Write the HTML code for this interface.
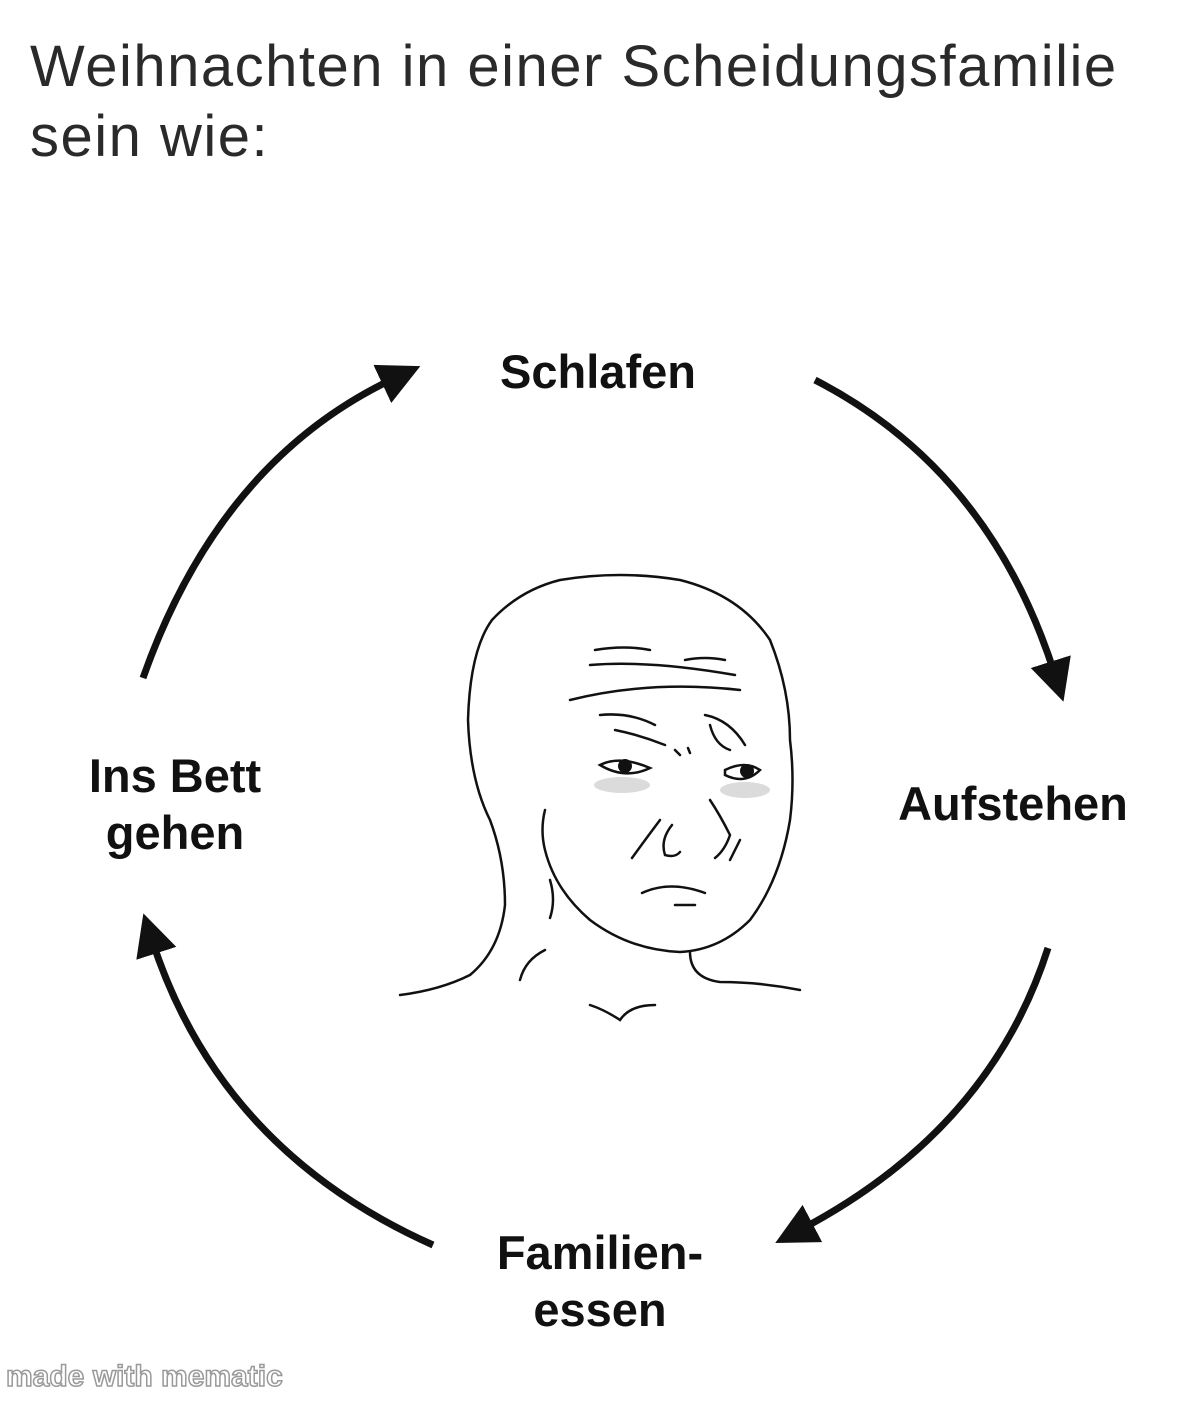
<!DOCTYPE html>
<html><head><meta charset="utf-8"><style>
html,body{margin:0;padding:0;background:#fff;}
body{width:1200px;height:1402px;position:relative;overflow:hidden;font-family:"Liberation Sans",sans-serif;}
.t{position:absolute;left:30px;font-size:58px;color:#2a2a2a;font-weight:normal;letter-spacing:1.5px;line-height:70px;}
.l{position:absolute;font-weight:bold;font-size:47px;color:#111;text-align:center;line-height:57px;}
.wm{position:absolute;left:6px;top:1360px;font-size:30px;font-weight:bold;color:#fff;-webkit-text-stroke:1.5px #999;}
</style></head><body>
<div class="t" style="top:32px">Weihnachten in einer Scheidungsfamilie<br>sein wie:</div>
<svg width="1200" height="1402" style="position:absolute;left:0;top:0">
<defs><marker id="a" markerWidth="6" markerHeight="6" refX="2" refY="3" orient="auto"><path d="M0,0 L6,3 L0,6 z" fill="#111"/></marker></defs>
<g fill="none" stroke="#111" stroke-width="7" marker-end="url(#a)">
<path d="M143,678 Q220,460 395,378"/>
<path d="M815,380 Q990,470 1055,675"/>
<path d="M1048,948 Q990,1130 800,1230"/>
<path d="M433,1245 Q220,1150 152,940"/>
</g>
<g fill="none" stroke="#111" stroke-width="2.5" stroke-linecap="round">
<path d="M400,995 Q440,990 470,975 Q500,950 505,905 Q505,860 490,820 Q470,780 468,720 Q470,650 492,620 Q520,590 560,580 Q620,570 680,580 Q740,595 770,640 Q790,690 790,740 Q795,780 790,820 Q780,880 750,920 Q720,950 680,952 Q630,950 590,920 Q555,890 545,850 Q540,830 545,810"/>
<path d="M690,952 Q690,978 720,982 Q760,982 800,990"/>
<path d="M520,980 Q525,960 545,950"/>
<path d="M590,1005 Q605,1010 620,1020 Q630,1005 655,1005"/>
<path d="M550,880 Q556,900 550,918"/>
<path d="M595,650 Q625,645 650,650 M685,660 Q705,656 725,660 M590,665 Q650,660 735,675 M570,700 Q650,680 740,690 M600,715 Q630,712 655,725 M615,730 Q640,735 665,745 M705,715 Q730,720 745,745 M710,725 Q715,745 730,750 M675,750 L680,755 M688,748 L690,753"/>
<path d="M600,765 Q620,755 650,768 Q625,780 600,765 Z"/>
<path d="M725,770 Q745,760 760,770 Q745,785 725,775 Z"/>
<path d="M660,820 Q645,840 632,858 M672,825 Q660,840 665,855 Q675,858 680,852 M710,800 Q720,815 730,835 Q725,850 715,858 M740,840 Q735,850 730,860"/>
<path d="M642,893 Q670,880 705,893 M675,905 L695,905"/>
</g>
<circle cx="625" cy="766" r="7" fill="#111"/><circle cx="747" cy="771" r="7" fill="#111"/>
<ellipse cx="622" cy="785" rx="28" ry="8" fill="#999" opacity="0.35"/>
<ellipse cx="745" cy="790" rx="25" ry="8" fill="#999" opacity="0.35"/>
</svg>
<div class="l" style="left:448px;top:343px;width:300px">Schlafen</div>
<div class="l" style="left:25px;top:747px;width:300px">Ins Bett<br>gehen</div>
<div class="l" style="left:863px;top:775px;width:300px">Aufstehen</div>
<div class="l" style="left:450px;top:1224px;width:300px">Familien-<br>essen</div>
<div class="wm">made with mematic</div>
</body></html>
